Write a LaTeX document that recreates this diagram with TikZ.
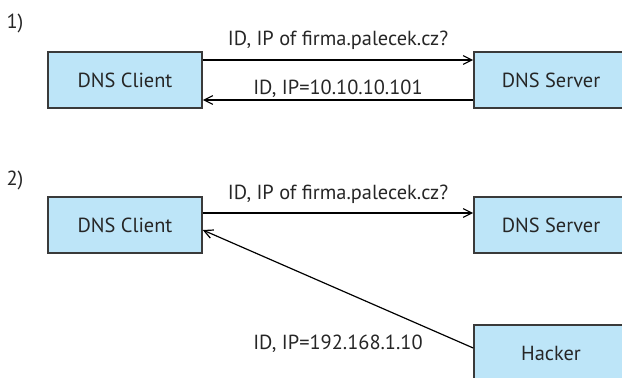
\documentclass[tikz,border=0pt]{standalone}
\usepackage{fontspec}
\setmainfont{PT Sans}
\usepackage{xcolor}
\usepackage{tikz}
\usetikzlibrary{arrows.meta}

\definecolor{hostfill}{HTML}{BDE5F8}
\definecolor{hostline}{HTML}{3A3A3A}
\definecolor{ink}{HTML}{262626}

\begin{document}
\begin{tikzpicture}[
  font=\fontsize{14.5pt}{17pt}\selectfont,
  text=ink,
  host/.style={draw=hostline, line width=1.1pt, fill=hostfill, minimum width=38.5mm, minimum height=14mm, align=center},
  msg/.style={-{Straight Barb[length=2.2mm, width=2.2mm]}, line width=0.85pt},
  lbl/.style={anchor=base, inner sep=0pt}
]
\clip (0,0) rectangle (15.55,9.425);

% 1) normal query and answer
\node (one) at (0.375,8.85) {1)};
\node[host] (client) at (3.125,7.425) {DNS Client};
\node[host] (server) at (13.775,7.425) {DNS Server};

\draw[msg] ([yshift=5mm]client.east) -- node[lbl, yshift=3.6mm]{ID, IP of firma.palecek.cz?} ([yshift=5mm]server.west);
\draw[msg] ([yshift=-5mm]server.west) -- node[lbl, yshift=1.5mm]{ID, IP=10.10.10.101} ([yshift=-5mm]client.east);

% 2) spoofed answer from the attacker
\node (two) at (0.375,4.925) {2)};
\node[host] (client2) at (3.125,3.8) {DNS Client};
\node[host] (server2) at (13.775,3.8) {DNS Server};
\node[host] (hacker) at (13.775,0.6) {Hacker};

\draw[msg] ([yshift=3mm]client2.east) -- node[lbl, yshift=3.5mm]{ID, IP of firma.palecek.cz?} ([yshift=3mm]server2.west);
\draw[msg] ([yshift=1.25mm]hacker.west) -- node[lbl, pos=0.5, yshift=-15mm]{ID, IP=192.168.1.10} ([yshift=-1.25mm]client2.east);
\end{tikzpicture}
\end{document}
